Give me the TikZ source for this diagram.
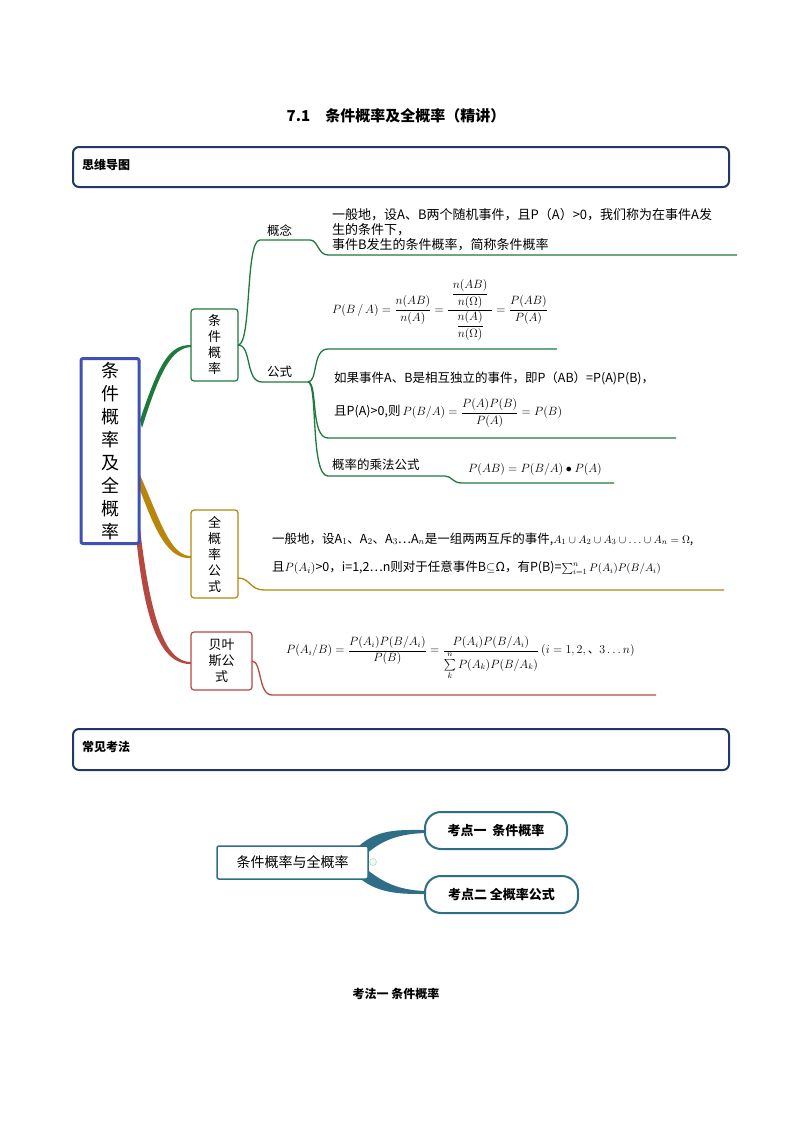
\documentclass[tikz,border=0pt]{standalone}
\usepackage{fontspec}
\usepackage{amsmath,amssymb}
\newfontfamily\cjk{Noto Sans CJK SC}
\usetikzlibrary{positioning}
\definecolor{hdr}{HTML}{1F3864}
\definecolor{rootc}{HTML}{3F51B5}
\definecolor{gr}{HTML}{1E7A3C}
\definecolor{gd}{HTML}{B8860B}
\definecolor{rd}{HTML}{B5483F}
\definecolor{tl}{HTML}{2E6E86}
\tikzset{
  hbox/.style={draw=hdr,line width=2pt,rounded corners=6pt},
  sub/.style={draw=#1,line width=1.2pt,rounded corners=3pt,fill=white,align=center,inner sep=0pt,font=\cjk\fontsize{13}{16}\selectfont},
  txt/.style={anchor=west,inner sep=0pt,font=\cjk\fontsize{12.5}{15}\selectfont},
  br/.style={draw=#1,line width=1.3pt},
  mth/.style={inner sep=0pt,font=\fontsize{12}{14}\selectfont},
  pill/.style={draw=tl,line width=2pt,rounded corners=16pt,fill=white,font=\cjk\bfseries\fontsize{13}{15}\selectfont},
}
\begin{document}
\begin{tikzpicture}[x=1pt,y=-1pt]
\useasboundingbox (0,0) rectangle (793,1122);
\node[font=\cjk\bfseries\fontsize{15}{18}\selectfont] (title) at (396,116) {7.1\quad 条件概率及全概率（精讲）};
\draw[hbox] (73,147) rectangle (729,187);
\node[txt,font=\cjk\bfseries\fontsize{12}{14}\selectfont] (h1) at (82,165) {思维导图};
\draw[hbox] (73,729) rectangle (729,770);
\node[txt,font=\cjk\bfseries\fontsize{12}{14}\selectfont] (h2) at (82,747) {常见考法};

% root branches
\fill[gr] (140,420) .. controls (160,360) and (170,345) .. (191,345) -- (191,347) .. controls (172,348) and (160,370) .. (142,428) -- cycle;
\fill[gd] (140,475) .. controls (160,520) and (170,556) .. (191,556) -- (191,558) .. controls (168,560) and (155,530) .. (140,490) -- cycle;
\fill[rd] (139,520) .. controls (150,620) and (165,662) .. (191,662) -- (191,664) .. controls (160,665) and (145,620) .. (137,545) -- cycle;

\node[draw=rootc,line width=3pt,rounded corners=2pt,fill=white,minimum width=58pt,minimum height=185pt,align=center,font=\cjk\fontsize{18}{23}\selectfont] (root) at (110,451) {条\\件\\概\\率\\及\\全\\概\\率};

\node[sub=gr,minimum width=47pt,minimum height=72pt] (c1) at (214.5,345) {条\\件\\概\\率};
\node[sub=gd,minimum width=47pt,minimum height=88pt] (c2) at (214.5,554) {全\\概\\率\\公\\式};
\node[sub=rd,minimum width=61pt,minimum height=58pt] (c3) at (221.5,661) {贝叶\\斯公\\式};

% green tree
\coordinate (g0) at (238,345);
\draw[br=gr] (g0) .. controls (252,345) and (245,240) .. (260,240) -- (310,240) .. controls (318,240) and (318,255) .. (328,255) -- (737,255);
\draw[br=gr] (g0) .. controls (252,345) and (245,382) .. (262,382) -- (308,382);
\draw[br=gr] (308,382) .. controls (318,382) and (312,349) .. (328,349) -- (557,349);
\draw[br=gr] (308,382) .. controls (318,382) and (310,438) .. (328,438) -- (676,438);
\draw[br=gr] (308,382) .. controls (318,382) and (310,476) .. (328,476) -- (445,476) .. controls (452,476) and (452,483) .. (462,483) -- (614,483);
\node[txt] (gn) at (267,231) {概念};
\node[txt] (gs) at (267,372) {公式};
\node[txt,align=left,anchor=north west,font=\cjk\fontsize{13}{15}\selectfont] (t1) at (332,208) {一般地，设A、B两个随机事件，且P（A）>0，我们称为在事件A发\\生的条件下，\\事件B发生的条件概率，简称条件概率};
\node[mth] (f1) at (440,310) {$P(B\,/\,A)=\dfrac{n(AB)}{n(A)}=\dfrac{\;\dfrac{n(AB)}{n(\Omega)}\;}{\dfrac{n(A)}{n(\Omega)}}=\dfrac{P(AB)}{P(A)}$};
\node[txt] (t2) at (334,378) {如果事件A、B是相互独立的事件，即P（AB）=P(A)P(B)，};
\node[txt] (t3) at (334,413) {且P(A)>0,则\,{\fontsize{12}{14}\selectfont$P(B/A)=\dfrac{P(A)P(B)}{P(A)}=P(B)$}};
\node[txt] (t4) at (332,465) {概率的乘法公式};
\node[mth] (f4) at (535,469) {$P(AB)=P(B/A)\bullet P(A)$};

% gold
\draw[br=gd] (238,578) .. controls (250,578) and (250,590) .. (264,590) -- (724,590);
\node[txt] (t5) at (272,539) {一般地，设A$_1$、A$_2$、A$_3$…A$_n$是一组两两互斥的事件,{\fontsize{11}{12}\selectfont$A_1\cup A_2\cup A_3\cup\ldots\cup A_n=\Omega$},};
\node[txt] (t6) at (272,568) {且$P(A_i)$>0，i=1,2…n则对于任意事件B$\subseteq$Ω，有P(B)={\fontsize{11}{12}\selectfont$\sum_{i=1}^{n}P(A_i)P(B/A_i)$}};

% red
\draw[br=rd] (252,661) .. controls (262,661) and (258,695) .. (272,695) -- (656,695);
\node[mth,anchor=west,font=\fontsize{11.5}{13}\selectfont] (f5) at (286,658) {$P(A_i/B)=\dfrac{P(A_i)P(B/A_i)}{P(B)}=\dfrac{P(A_i)P(B/A_i)}{\sum\limits_{k}^{n}P(A_k)P(B/A_k)}\,(i=1,2,\text{\cjk 、}3\ldots n)$};

% bottom map
\fill[tl] (355,850) .. controls (375,828) and (400,830) .. (425,830) -- (425,833) .. controls (395,834) and (380,842) .. (365,855) -- cycle;
\fill[tl] (355,874) .. controls (375,894) and (400,894) .. (425,894) -- (425,891) .. controls (395,890) and (380,880) .. (365,868) -- cycle;
\node[draw=tl,line width=1.5pt,rounded corners=2pt,fill=white,minimum width=151pt,minimum height=33pt,font=\cjk\fontsize{14}{16}\selectfont] (m0) at (292.5,862.5) {条件概率与全概率};
\node[pill,minimum width=142pt,minimum height=37pt] (m1) at (496,830.5) {考点一\ \ 条件概率};
\node[pill,minimum width=153pt,minimum height=37pt] (m2) at (501.5,894.5) {考点二 全概率公式};
\draw[gray!50,fill=green!8] (373,862) circle (3.5pt);
\node[font=\cjk\bfseries\fontsize{12}{14}\selectfont] (bt) at (396,994) {考法一\ 条件概率};
\end{tikzpicture}
\end{document}
